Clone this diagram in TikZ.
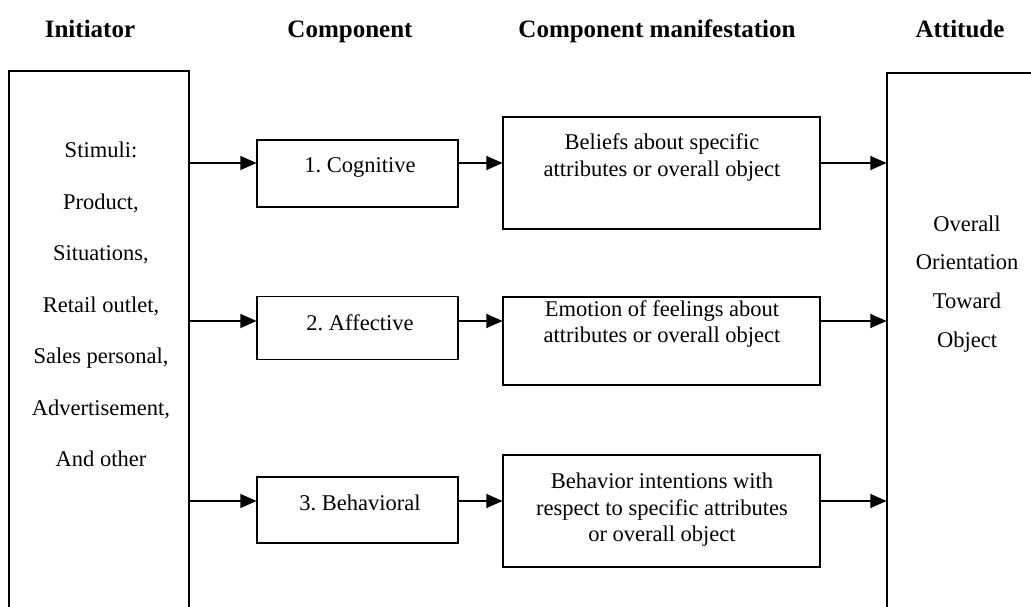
\documentclass[tikz,border=0pt]{standalone}
\usepackage{fontspec}
\setmainfont{Liberation Serif}
\usetikzlibrary{arrows.meta}
\newcommand{\bodysize}{\fontsize{22.5}{26.5}\selectfont}
\newcommand{\headsize}{\fontsize{25}{30}\selectfont\bfseries}
\frenchspacing
\begin{document}
\begin{tikzpicture}[x=1pt, y=-1pt,
    every node/.style={inner sep=0pt},
    head/.style={font=\headsize, text height=20pt, text depth=4pt},
    txt/.style={font=\bodysize, text height=20pt, text depth=5pt},
    mtxt/.style={font=\bodysize, align=center},
    bigbox/.style={draw, line width=1.1pt},
    compbox/.style={draw, line width=1.1pt, minimum width=201pt},
    manibox/.style={draw, line width=1.1pt, minimum width=317pt},
    arr/.style={line width=1.1pt, -{Triangle[length=16pt, width=14pt]}}]
      \useasboundingbox (0, 0) rectangle (1031, 607);

      \node[head] (h1) at (90, 30){Initiator};
      \node[head] (h2) at (350, 30){Component};
      \node[head] (h3) at (657, 30){Component manifestation};
      \node[head] (h4) at (960, 30){Attitude};

      \node[bigbox, minimum width=180pt, minimum height=580pt] (init) at (99, 361){};
      \node[bigbox, minimum width=213pt, minimum height=577pt] (att) at (993.5, 361.5){};

      \node[txt] (s1) at (101, 150){Stimuli:};
      \node[txt] (s2) at (101, 202){Product,};
      \node[txt] (s3) at (101, 253){Situations,};
      \node[txt] (s4) at (101, 305){Retail outlet,};
      \node[txt] (s5) at (101, 356){Sales personal,};
      \node[txt] (s6) at (101, 408){Advertisement,};
      \node[txt] (s7) at (101, 459){And other};

      \node[txt] (o1) at (967, 224){Overall};
      \node[txt] (o2) at (967, 262){Orientation};
      \node[txt] (o3) at (967, 301){Toward};
      \node[txt] (o4) at (967, 340){Object};

      \coordinate (r1) at (0, 163);
      \coordinate (r2) at (0, 321);
      \coordinate (r3) at (0, 501);

      \node[compbox, minimum height=67pt] (cogbox) at (357.5, 173.5){};
      \node[compbox, minimum height=63pt] (affbox) at (357.5, 328){};
      \node[compbox, minimum height=66pt] (behbox) at (357.5, 510){};
        \node[txt] (cog) at (360, 165){1. Cognitive};
        \node[txt] (aff) at (360, 323){2. Affective};
        \node[txt] (beh) at (360, 503){3. Behavioral};

      \node[manibox, minimum height=112pt] (belbox) at (661.5, 173){};
      \node[manibox, minimum height=88pt] (emobox) at (661.5, 341){};
      \node[manibox, minimum height=112pt] (intbox) at (661.5, 511){};
        \node[mtxt] (bel) at (662, 157.5){Beliefs about specific\\attributes or overall object};
        \node[mtxt] (emo) at (662, 324){Emotion of feelings about\\attributes or overall object};
        \node[mtxt] (int) at (662, 510){Behavior intentions with\\respect to specific attributes\\or overall object};

      \draw[arr] (init.east |- r1) to (cogbox.west |- r1);
      \draw[arr] (cogbox.east |- r1) to (belbox.west |- r1);
      \draw[arr] (belbox.east |- r1) to (att.west |- r1);
      \draw[arr] (init.east |- r2) to (affbox.west |- r2);
      \draw[arr] (affbox.east |- r2) to (emobox.west |- r2);
      \draw[arr] (emobox.east |- r2) to (att.west |- r2);
      \draw[arr] (init.east |- r3) to (behbox.west |- r3);
      \draw[arr] (behbox.east |- r3) to (intbox.west |- r3);
      \draw[arr] (intbox.east |- r3) to (att.west |- r3);
    \end{tikzpicture}
\end{document}
